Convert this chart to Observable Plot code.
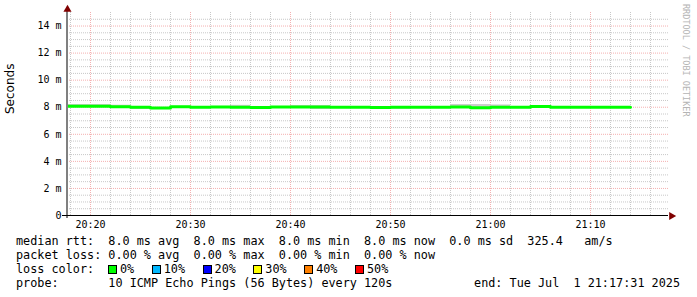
<!DOCTYPE html>
<html>
<head>
<meta charset="utf-8">
<script src="https://cdn.jsdelivr.net/npm/d3@7"></script>
<script src="https://cdn.jsdelivr.net/npm/@observablehq/plot@0.6"></script>
<style>
  html, body { margin: 0; padding: 0; background: #fff; }
  #wrap { position: relative; width: 697px; height: 297px; overflow: hidden; background: #fff; }
  #legend { font-family: "DejaVu Sans Mono", monospace; font-size: 11.8px; line-height: 14px; color: #000; white-space: pre; padding-left: 16px; }
  .row { height: 14px; display: flex; align-items: center; }
  .row > * { flex: none; }
  .lbl { display: block; width: 92px; }
  .item { display: flex; align-items: center; margin-right: 17.5px; }
  .sq { display: block; flex: none; width: 9px; height: 9px; box-sizing: border-box; border: 1px solid #000; margin-right: 3px; }
  #wm { position: absolute; left: 681px; top: 4px; writing-mode: vertical-rl; font-family: "DejaVu Sans Mono", monospace; font-size: 8.5px; color: #b4b4b4; line-height: 10px; }
</style>
</head>
<body>
<div id="wrap">
  <div id="chart"></div>
  <div id="legend"></div>
  <div id="wm"></div>
</div>
<script>
// ---- data ----
const binStarts = ["20:16","20:18","20:20","20:22","20:24","20:26","20:28","20:30","20:32","20:34",
                   "20:36","20:38","20:40","20:42","20:44","20:46","20:48","20:50","20:52","20:54",
                   "20:56","20:58","21:00","21:02","21:04","21:06","21:08","21:10","21:12"];
const medianMs = [8.07,8.07,8.07,8.04,8.00,7.94,8.03,8.00,8.02,8.00,
                  7.98,8.01,8.01,8.01,8.00,8.00,7.98,8.00,8.00,8.00,
                  8.02,7.97,8.00,7.99,8.06,8.00,8.00,8.00,8.00];
const minMs    = [8.00,8.00,8.00,7.98,7.86,7.90,7.98,7.90,7.97,7.95,
                  7.86,7.97,7.96,7.86,7.96,7.96,7.94,7.88,7.95,7.95,
                  7.96,7.84,7.92,7.90,8.00,7.90,7.96,7.96,7.96];
const maxMs    = [8.20,8.20,8.20,8.15,8.05,7.98,8.07,8.05,8.06,8.14,
                  8.02,8.05,8.13,8.13,8.04,8.04,8.03,8.03,8.04,8.04,
                  8.20,8.20,8.17,8.03,8.10,8.03,8.04,8.04,8.04];
const binMinutes = 2;
const xDomainLabels = ["20:17:42","21:17:48"];
const xTickLabels = ["20:20","20:30","20:40","20:50","21:00","21:10"];
const yTicks = [0,2,4,6,8,10,12,14];
const yMax = 15;
const yLabel = "Seconds";
const lossLabels = ["0%","10%","20%","30%","40%","50%"];
const lossColors = ["#00ff00","#00b8ff","#0000ff","#ffff00","#ff8000","#ff0000"];
const legendLines = [
  "median rtt:  8.0 ms avg  8.0 ms max  8.0 ms min  8.0 ms now  0.0 ms sd  325.4   am/s",
  "packet loss: 0.00 % avg  0.00 % max  0.00 % min  0.00 % now"
];
const lossTitle = "loss color:";
const probeText = "probe:       10 ICMP Echo Pings (56 Bytes) every 120s";
const endText = "end: Tue Jul  1 21:17:31 2025";
const watermark = "RRDTOOL / TOBI OETIKER";

// ---- build ----
const parseHM = d3.utcParse("%H:%M");
const parseHMS = d3.utcParse("%H:%M:%S");
const bins = binStarts.map((s, i) => {
  const start = parseHM(s);
  return { start, end: d3.utcMinute.offset(start, binMinutes), median: medianMs[i], min: minMs[i], max: maxMs[i] };
});
const linePts = bins.map(b => ({ t: b.start, v: b.median }))
  .concat([{ t: bins[bins.length - 1].end, v: bins[bins.length - 1].median }]);
const xDomain = xDomainLabels.map(parseHMS);
const xTicks = xTickLabels.map(parseHM);
const minorX = d3.utcMinute.every(2).range(xDomain[0], xDomain[1]).filter(d => d.getUTCMinutes() % 10 !== 0);
const minorY = d3.range(0.5, yMax, 0.5).filter(v => v % 2 !== 0);
const majorY = yTicks.filter(v => v > 0);

const chart = Plot.plot({
  width: 697, height: 234,
  marginLeft: 67, marginRight: 29, marginTop: 12, marginBottom: 19,
  style: { background: "#fff", overflow: "visible" },
  x: { type: "utc", domain: xDomain },
  y: { domain: [0, yMax] },
  marks: [
    Plot.gridX(minorX, { stroke: "#c8c8c8", strokeOpacity: 1, strokeDasharray: "1,1" }),
    Plot.gridY(minorY, { stroke: "#c8c8c8", strokeOpacity: 1, strokeDasharray: "1,1" }),
    Plot.gridX(xTicks, { stroke: "#f4b0b0", strokeOpacity: 1, strokeDasharray: "1,1" }),
    Plot.gridY(majorY, { stroke: "#f4b0b0", strokeOpacity: 1, strokeDasharray: "1,1" }),
    Plot.rect(bins, { x1: "start", x2: "end", y1: "min", y2: "median", fill: "#a8a8a8", clip: true }),
    Plot.rect(bins, { x1: "start", x2: "end", y1: "median", y2: "max", fill: "#cccccc", clip: true }),
    Plot.line(linePts, { x: "t", y: "v", curve: "step-after", stroke: "#00ff00", strokeWidth: 3, clip: true }),
    Plot.ruleX([xDomain[0]], { stroke: "#808080", strokeWidth: 2, dx: -0.5, insetTop: -3, insetBottom: -3 }),
    Plot.ruleY([0], { stroke: "#000", insetLeft: -5 }),
    Plot.dot([0], { frameAnchor: "top-left", symbol: "triangle", r: 3, fill: "#800000", stroke: "none", dy: -3, dx: 0 }),
    Plot.dot([0], { frameAnchor: "bottom-right", symbol: "triangle", r: 3, fill: "#800000", stroke: "none", rotate: 90, dx: 3, dy: 0.5 }),
    Plot.axisX(xTicks, { tickFormat: d3.utcFormat("%H:%M"), tickSize: 0, tickPadding: 5, fontSize: 10, fontFamily: "DejaVu Sans Mono", fill: "#000", label: null }),
    Plot.axisY(yTicks, { tickFormat: d => d === 0 ? "0" : `${d} m`, tickSize: 0, tickPadding: 6, fontSize: 10, fontFamily: "DejaVu Sans Mono", fill: "#000", label: null }),
    Plot.text([yLabel], { text: d => d, frameAnchor: "left", rotate: -90, dx: -57, fontSize: 12, fontFamily: "DejaVu Sans", fill: "#000" })
  ]
});
document.getElementById("chart").appendChild(chart);

// ---- legend ----
const legend = document.getElementById("legend");
legendLines.forEach(t => {
  const r = document.createElement("div"); r.className = "row"; r.textContent = t; legend.appendChild(r);
});
const lossRow = document.createElement("div"); lossRow.className = "row";
const lt = document.createElement("div"); lt.className = "lbl"; lt.textContent = lossTitle; lossRow.appendChild(lt);
lossLabels.forEach((l, i) => {
  const it = document.createElement("div"); it.className = "item";
  const sq = document.createElement("div"); sq.className = "sq"; sq.style.background = lossColors[i];
  const tx = document.createElement("span"); tx.textContent = l;
  it.appendChild(sq); it.appendChild(tx); lossRow.appendChild(it);
});
legend.appendChild(lossRow);
const probeRow = document.createElement("div"); probeRow.className = "row";
probeRow.style.justifyContent = "space-between"; probeRow.style.width = "664px";
const p1 = document.createElement("span"); p1.textContent = probeText;
const p2 = document.createElement("span"); p2.textContent = endText;
probeRow.appendChild(p1); probeRow.appendChild(p2);
legend.appendChild(probeRow);
document.getElementById("wm").textContent = watermark;
</script>
</body>
</html>
